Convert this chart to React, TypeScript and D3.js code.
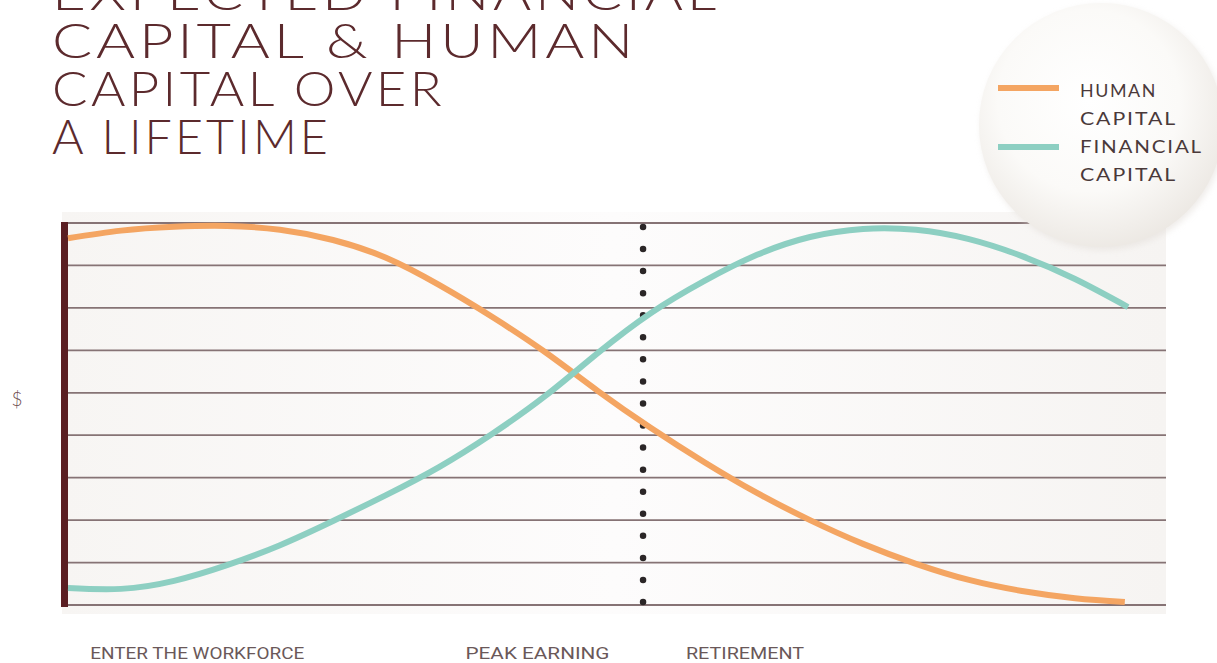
import * as d3 from "d3";

// life stage position (0 = entering workforce, 100 = end of life)
const humanT = [0, 5, 10, 15, 20, 25, 30, 35, 40, 45, 50, 55, 60, 65, 70, 75, 80, 85, 90, 95, 99.7];
const humanCapital = [8.64, 8.82, 8.91, 8.93, 8.84, 8.6, 8.18, 7.54, 6.79, 5.96, 5.04, 4.17, 3.37, 2.64, 2.0, 1.44, 0.97, 0.59, 0.33, 0.16, 0.07];
const financialT = [0, 5, 10, 15, 20, 25, 30, 35, 40, 45, 50, 55, 60, 65, 70, 75, 80, 85, 90, 95, 100];
const financialCapital = [0.4, 0.38, 0.57, 0.94, 1.41, 1.98, 2.59, 3.25, 4.03, 4.92, 5.94, 6.88, 7.63, 8.25, 8.67, 8.86, 8.84, 8.62, 8.22, 7.68, 7.02];

const gridValues = [0, 1, 2, 3, 4, 5, 6, 7, 8, 9];
const retirementT = 54.25;

const titleLines = ["EXPECTED FINANCIAL", "CAPITAL & HUMAN", "CAPITAL OVER", "A LIFETIME"];
const titleWidths = [668, 585, 393, 279];

const stageLabels = ["ENTER THE WORKFORCE", "PEAK EARNING", "RETIREMENT"];
const stageLabelT = [2.1, 37.5, 58.3];
const stageLabelW = [214, 144, 118];

const legendItems = [
  { lines: ["HUMAN", "CAPITAL"], widths: [77, 97], color: "#f4a562" },
  { lines: ["FINANCIAL", "CAPITAL"], widths: [123, 97], color: "#8dcfc2" },
];

const W = 1217;
const H = 663;

export default function App() {
  const x = d3.scaleLinear().domain([0, 100]).range([68, 1128]);
  const y = d3.scaleLinear().domain([0, 9]).range([605, 223]);

  const line = d3
    .line<[number, number]>()
    .x((d) => x(d[0]))
    .y((d) => y(d[1]))
    .curve(d3.curveNatural);

  const humanPath = line(humanT.map((t, i) => [t, humanCapital[i]]));
  const financialPath = line(financialT.map((t, i) => [t, financialCapital[i]]));

  const dotTop = y(9) + 4;
  const dotBottom = y(0) - 3;
  const dotGap = (dotBottom - dotTop) / 17;

  const titleFont = "Lato, 'Open Sans', sans-serif";

  return (
    <svg
      width={W}
      height={H}
      style={{ position: "absolute", left: 0, top: 0, display: "block", background: "#ffffff" }}
    >
      <defs>
        <linearGradient id="plotBg" x1="0" x2="1" y1="0" y2="0">
          <stop offset="0" stopColor="#f7f5f3" />
          <stop offset="0.5" stopColor="#fdfcfc" />
          <stop offset="1" stopColor="#f6f4f2" />
        </linearGradient>
        <radialGradient id="bubble" cx="0.45" cy="0.4" r="0.62">
          <stop offset="0" stopColor="#ffffff" />
          <stop offset="0.6" stopColor="#fbfaf8" />
          <stop offset="1" stopColor="#ece8e3" />
        </radialGradient>
        <filter id="soft" x="-20%" y="-20%" width="140%" height="140%">
          <feGaussianBlur stdDeviation="3" />
        </filter>
      </defs>

      {/* plot background */}
      <rect x={62} y={212} width={1104} height={402} fill="url(#plotBg)" />

      {/* horizontal grid */}
      {gridValues.map((v) => (
        <line key={v} x1={62} x2={1166} y1={y(v)} y2={y(v)} stroke="#867375" strokeWidth={1.8} />
      ))}

      {/* left axis bar */}
      <rect x={61} y={y(9) - 1} width={7} height={y(0) - y(9) + 3} fill="#5a1e22" />

      {/* retirement dotted line */}
      <line
        x1={x(retirementT)}
        x2={x(retirementT)}
        y1={dotTop}
        y2={dotBottom + 0.01}
        stroke="#2b2627"
        strokeWidth={6.5}
        strokeLinecap="round"
        strokeDasharray={`0 ${dotGap}`}
      />

      {/* curves */}
      <path d={humanPath ?? ""} fill="none" stroke="#f4a562" strokeWidth={6} />
      <path d={financialPath ?? ""} fill="none" stroke="#8dcfc2" strokeWidth={6} />

      {/* $ axis label */}
      <text x={17} y={406} textAnchor="middle" fontFamily={titleFont} fontWeight={300} fontSize={19} fill="#6e4d4f">
        $
      </text>

      {/* title */}
      {titleLines.map((t, i) => (
        <text
          key={t}
          x={52}
          y={10 + i * 48}
          fontFamily={titleFont}
          fontWeight={300}
          fontSize={47}
          letterSpacing={3}
          fill="#5c2a2d"
          textLength={titleWidths[i]}
          lengthAdjust="spacingAndGlyphs"
        >
          {t}
        </text>
      ))}

      {/* legend bubble */}
      <circle cx={1103} cy={128} r={122} fill="#e2ddd8" opacity={0.55} filter="url(#soft)" />
      <circle cx={1101} cy={125} r={122} fill="url(#bubble)" />
      {legendItems.map((item, i) => (
        <g key={i}>
          <line x1={998} x2={1059} y1={88 + i * 59} y2={88 + i * 59} stroke={item.color} strokeWidth={6} />
          {item.lines.map((l, j) => (
            <text
              key={j}
              x={1080}
              y={97 + i * 56 + j * 28}
              fontFamily={titleFont}
              fontSize={17}
              fill="#4a393a"
              letterSpacing={1.5}
              textLength={item.widths[j]}
              lengthAdjust="spacingAndGlyphs"
            >
              {l}
            </text>
          ))}
        </g>
      ))}

      {/* stage labels */}
      {stageLabels.map((s, i) => (
        <text
          key={s}
          x={x(stageLabelT[i])}
          y={659}
          fontFamily="Roboto, 'Open Sans', sans-serif"
          fontWeight={400}
          fontSize={16}
          fill="#6a5859"
          textLength={stageLabelW[i]}
          lengthAdjust="spacingAndGlyphs"
        >
          {s}
        </text>
      ))}
    </svg>
  );
}
